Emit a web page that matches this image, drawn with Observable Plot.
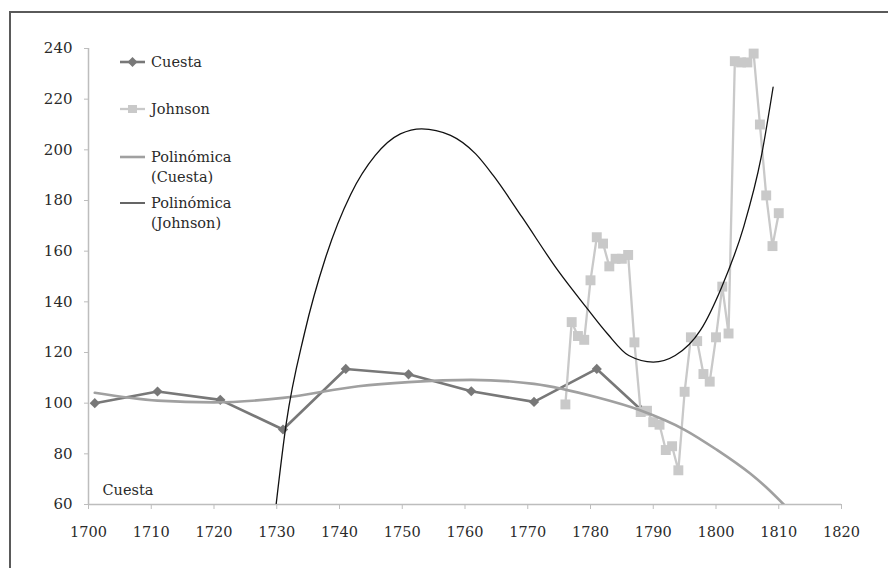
<!DOCTYPE html>
<html>
<head>
<meta charset="utf-8">
<script src="https://cdn.jsdelivr.net/npm/d3@7"></script>
<script src="https://cdn.jsdelivr.net/npm/@observablehq/plot@0.6"></script>
<style>
  html, body { margin: 0; padding: 0; background: #fff; }
  #chart svg { display: block; }
  #chart svg, #chart svg text, #chart svg tspan {
    font-family: "DejaVu Serif", "Liberation Serif", serif !important;
  }
</style>
</head>
<body>
<div id="chart"></div>
<script>
// ---- Data ----
const cuestaYears  = [1701, 1711, 1721, 1731, 1741, 1751, 1761, 1771, 1781, 1788];
const cuestaValues = [100, 104.6, 101.3, 89.6, 113.5, 111.4, 104.7, 100.5, 113.5, 97.5];

const johnsonYears  = [1776, 1777, 1778, 1779, 1780, 1781, 1782, 1783, 1784, 1785, 1786, 1787,
                       1788, 1789, 1790, 1791, 1792, 1793, 1794, 1795, 1796, 1797, 1798, 1799,
                       1800, 1801, 1802, 1803, 1804, 1805, 1806, 1807, 1808, 1809, 1810];
const johnsonValues = [99.5, 132, 126.5, 125, 148.5, 165.5, 163, 154, 157, 157, 158.5, 124,
                       96.5, 97, 92.5, 91.5, 81.5, 83, 73.5, 104.5, 126, 124.5, 111.5, 108.5,
                       126, 146, 127.5, 235, 234.5, 234.5, 238, 210, 182, 162, 175];

// Polynomial trendlines
const polyCuestaYears  = [1701, 1711, 1720, 1731, 1743, 1751, 1761, 1771, 1781, 1788, 1795, 1800, 1805.5, 1808, 1810.8];
const polyCuestaValues = [104.1, 101.0, 100.3, 102.1, 106.7, 108.3, 109.2, 107.6, 102.3, 97.1, 89.5, 81.8, 72.1, 66.8, 60];

const polyJohnsonYears  = [1729.9, 1731.5, 1734.4, 1737.8, 1741.8, 1745.7, 1749.7, 1753.1, 1757.7, 1761.7,
                           1764.5, 1769.1, 1774.8, 1779.3, 1782.7, 1786.1, 1790, 1793.5, 1797.5, 1800.9,
                           1804.4, 1807.2, 1809.1];
const polyJohnsonValues = [60, 91.8, 127.4, 157.6, 182.5, 197.8, 206.3, 208.3, 205.7, 198.4,
                           189.9, 173.4, 152.4, 137.9, 127.4, 118.8, 116.2, 118.8, 128.7, 145.8,
                           169.5, 197.1, 224.7];

const xTicks = [1700, 1710, 1720, 1730, 1740, 1750, 1760, 1770, 1780, 1790, 1800, 1810, 1820];
const yTicks = [60, 80, 100, 120, 140, 160, 180, 200, 220, 240];

const seriesNames = ["Cuesta", "Johnson", ["Polinómica", "(Cuesta)"], ["Polinómica", "(Johnson)"]];
const cornerLabel = "Cuesta";

// ---- Tables built from the arrays ----
const cuesta = cuestaYears.map((x, i) => ({x, y: cuestaValues[i]}));
const johnson = johnsonYears.map((x, i) => ({x, y: johnsonValues[i]}));
const polyC = polyCuestaYears.map((x, i) => ({x, y: polyCuestaValues[i]}));
const polyJ = polyJohnsonYears.map((x, i) => ({x, y: polyJohnsonValues[i]}));

const FONT = '"DejaVu Serif", "Liberation Serif", serif';
const C_CUESTA = "#787878";
const C_JOHNSON = "#c9c9c9";
const C_POLYC = "#a0a0a0";
const C_POLYJ = "#111111";
const C_AXIS = "#bdbdbd";
const C_TEXT = "#2a2a2a";

const W = 888, H = 568;
const chart = Plot.plot({
  width: W,
  height: H,
  marginLeft: 88,
  marginRight: 47,
  marginTop: 48,
  marginBottom: 64,
  style: {fontFamily: FONT, fontSize: "15px", color: C_TEXT, background: "#fff", overflow: "visible"},
  x: {domain: [1700, 1820], ticks: xTicks},
  y: {domain: [60, 240], ticks: yTicks},
  marks: [
    Plot.ruleY([60], {stroke: C_AXIS, strokeWidth: 1.5}),
    Plot.ruleX([1700], {stroke: C_AXIS, strokeWidth: 1.5}),
    Plot.axisX({ticks: xTicks, tickSize: 5, tickPadding: 17, stroke: C_AXIS, fill: C_TEXT,
                tickFormat: d => String(d), label: null, fontSize: 14.5}),
    Plot.axisY({ticks: yTicks, tickSize: 4, tickPadding: 12, stroke: C_AXIS, fill: C_TEXT,
                label: null, fontSize: 15}),
    // Cuesta series
    Plot.line(cuesta, {x: "x", y: "y", stroke: C_CUESTA, strokeWidth: 2.6}),
    Plot.dot(cuesta, {x: "x", y: "y", symbol: "diamond2", r: 4.6, fill: C_CUESTA, stroke: "none"}),
    // Johnson series
    Plot.line(johnson, {x: "x", y: "y", stroke: C_JOHNSON, strokeWidth: 2.3}),
    Plot.dot(johnson, {x: "x", y: "y", symbol: "square", r: 5.6, fill: C_JOHNSON, stroke: "none"}),
    // Trendlines
    Plot.line(polyC, {x: "x", y: "y", stroke: C_POLYC, strokeWidth: 2.6, curve: "monotone-x", clip: true}),
    Plot.line(polyJ, {x: "x", y: "y", stroke: C_POLYJ, strokeWidth: 1.3, curve: "monotone-x", clip: true}),
    // corner label
    Plot.text([cornerLabel], {frameAnchor: "bottom-left", dx: 14, dy: -10, text: d => d,
                fill: C_TEXT, fontSize: 14.5, textAnchor: "start"})
  ]
});

document.getElementById("chart").appendChild(chart);

// ---- Frame and legend ----
const svg = d3.select(chart);
svg.insert("rect", ":first-child")
  .attr("x", 10).attr("y", 12).attr("width", 900).attr("height", 600)
  .attr("fill", "none").attr("stroke", "#5a5a5a").attr("stroke-width", 2);

const lg = svg.append("g").attr("font-size", 14.5).attr("fill", C_TEXT).attr("text-anchor", "start");
const rows = [
  {y: 62, stroke: C_CUESTA, sw: 2.6, sym: "diamond"},
  {y: 109, stroke: C_JOHNSON, sw: 2.3, sym: "square"},
  {y: 157, stroke: C_POLYC, sw: 2.6, sym: null},
  {y: 203, stroke: C_POLYJ, sw: 1.3, sym: null}
];
rows.forEach((r, i) => {
  lg.append("line").attr("x1", 120).attr("x2", 145).attr("y1", r.y).attr("y2", r.y)
    .attr("stroke", r.stroke).attr("stroke-width", r.sw);
  if (r.sym === "diamond") {
    lg.append("path").attr("d", d3.symbol(d3.symbolDiamond2, 64)()).attr("transform", `translate(132.5,${r.y})`).attr("fill", r.stroke);
  } else if (r.sym === "square") {
    lg.append("rect").attr("x", 128).attr("y", r.y - 4).attr("width", 9).attr("height", 8).attr("fill", r.stroke);
  }
  const name = seriesNames[i];
  const lines = Array.isArray(name) ? name : [name];
  const t = lg.append("text").attr("x", 151).attr("y", r.y).attr("text-anchor", "start");
  lines.forEach((s, j) => {
    t.append("tspan").attr("x", 151).attr("dy", j === 0 ? "0.35em" : "20px").text(s);
  });
});
</script>
</body>
</html>
